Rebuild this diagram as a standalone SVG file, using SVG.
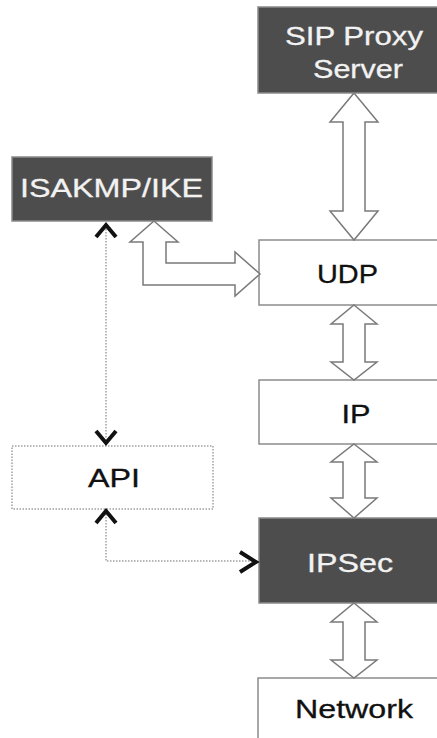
<svg xmlns="http://www.w3.org/2000/svg" width="437" height="738" viewBox="0 0 437 738">
<style>
.dark{fill:#4d4d4d;stroke:#8a8a8a;stroke-width:1.5}
.light{fill:#ffffff;stroke:#8c8c8c;stroke-width:1.5}
.dot{fill:#ffffff;stroke:#a0a0a0;stroke-width:1.5;stroke-dasharray:1.5 1.5}
.tw{font-family:"Liberation Sans",Arial,sans-serif;font-size:25px;fill:#f2f2f2;stroke:#f2f2f2;stroke-width:0.3;text-anchor:middle}
.tb{font-family:"Liberation Sans",Arial,sans-serif;font-size:25px;fill:#111111;stroke:#111111;stroke-width:0.3;text-anchor:middle}
.arr{fill:#ffffff;stroke:#7a7a7a;stroke-width:1.5;stroke-linejoin:miter}
.dl{fill:none;stroke:#a0a0a0;stroke-width:1.5;stroke-dasharray:1.5 1.5}
.chev{fill:none;stroke:#111111;stroke-width:4;stroke-linecap:butt;stroke-linejoin:miter}
</style>
<rect width="437" height="738" fill="#ffffff"/>
<g id="sip">
<rect class="dark" x="258" y="7" width="185" height="86"/>
<text class="tw" x="354" y="45" textLength="138" lengthAdjust="spacingAndGlyphs">SIP Proxy</text>
<text class="tw" x="358" y="78" textLength="90" lengthAdjust="spacingAndGlyphs">Server</text>
</g>
<g id="isakmp">
<rect class="dark" x="12" y="157" width="200" height="64"/>
<text class="tw" x="111.5" y="197" textLength="183" lengthAdjust="spacingAndGlyphs">ISAKMP/IKE</text>
</g>
<g id="udp">
<rect class="light" x="259" y="240" width="185" height="65"/>
<text class="tb" x="347.5" y="283" textLength="61" lengthAdjust="spacingAndGlyphs">UDP</text>
</g>
<g id="ip">
<rect class="light" x="259" y="380" width="185" height="64"/>
<text class="tb" x="356" y="423" textLength="29" lengthAdjust="spacingAndGlyphs">IP</text>
</g>
<g id="api">
<rect class="dot" x="12" y="446" width="201" height="63"/>
<text class="tb" x="114" y="487" textLength="52" lengthAdjust="spacingAndGlyphs">API</text>
</g>
<g id="ipsec">
<rect class="dark" x="259" y="518" width="185" height="85"/>
<text class="tw" x="350" y="572" textLength="86" lengthAdjust="spacingAndGlyphs">IPSec</text>
</g>
<g id="network">
<rect class="light" x="258" y="678" width="185" height="70"/>
<text class="tb" x="354" y="718" textLength="118" lengthAdjust="spacingAndGlyphs">Network</text>
</g>
<g id="connectors">
<path class="arr" d="M354,93 L378,122 L365,122 L365,211 L378,211 L354,240 L330,211 L343,211 L343,122 L330,122 Z"/>
<path class="arr" d="M354,305 L377,324 L365,324 L365,362 L377,362 L354,380 L331,362 L343,362 L343,324 L331,324 Z"/>
<path class="arr" d="M354,444 L377,462 L365,462 L365,498 L377,498 L354,518 L331,498 L343,498 L343,462 L331,462 Z"/>
<path class="arr" d="M354,603 L377,622 L365,622 L365,660 L377,660 L354,678 L331,660 L343,660 L343,622 L331,622 Z"/>
<path class="arr" d="M154,221 L178,242 L166,242 L166,263 L235,263 L235,252 L260,274 L235,296 L235,285 L143,285 L143,242 L130,242 Z"/>
<path class="dl" d="M106,226 L106,443"/>
<path class="dl" d="M106,511 L106,561 L256,561"/>
<path class="chev" d="M96,237 L106,225 L116,237"/>
<path class="chev" d="M96,431 L106,443 L116,431"/>
<path class="chev" d="M96,523 L106,511 L116,523"/>
<path class="chev" d="M240,552 L256,562 L240,572"/>
</g>
</svg>
